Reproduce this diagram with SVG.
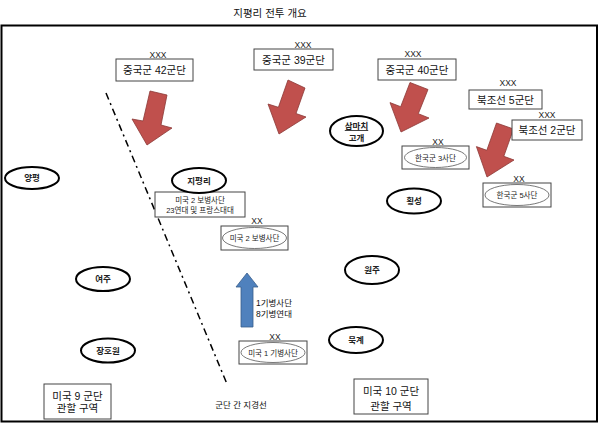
<svg xmlns="http://www.w3.org/2000/svg" width="600" height="434" viewBox="0 0 600 434">
<style>
text{font-family:"Liberation Sans","Noto Sans CJK KR",sans-serif;fill:#111;text-anchor:middle}
.big{font-size:10.5px}
.xx{font-size:8.5px;fill:#222}
.city{font-size:8.5px;font-weight:bold;fill:#222}
.unit{font-size:7.5px;fill:#222}
.box{fill:#fff;stroke:#444;stroke-width:1}
.cell{fill:none;stroke:#555;stroke-width:0.8}
.cityel{fill:#fff;stroke:#000;stroke-width:2}
.red{fill:#c0504d;stroke:#8c3836;stroke-width:0.8}
.blue{fill:#4f81bd;stroke:#385d8a;stroke-width:0.8}
</style>
<rect x="0" y="0" width="600" height="434" fill="#fff"/>
<text x="270" y="17" style="font-size:10.5px">지평리 전투 개요</text>
<rect x="1.5" y="25.5" width="595.5" height="396" fill="none" stroke="#000" stroke-width="2"/>

<g id="connectors">
<line x1="106" y1="93" x2="227" y2="384" stroke="#000" stroke-width="1.5" stroke-dasharray="7 4 2 4"/>
<polygon class="red" points="150,91 167,95 161,125 172,128 147,145 132,119 143,121"/>
<polygon class="red" points="288,80 305,88 296,113.5 306,117 279,134 268,104 278.4,107.3"/>
<polygon class="red" points="410,82.5 428,89.5 418.3,113.7 429,118 401,132 390,102.6 400.7,106.7"/>
<polygon class="red" points="496.5,123 513.5,129 503.8,156.3 514,160 487,177 476.4,146.6 486.8,150.3"/>
<polygon class="blue" points="247,273 258,287 253,287 253,327 241,327 241,287 236,287"/>
</g>

<g id="cn42"><text class="xx" x="158" y="58">XXX</text><rect class="box" x="116" y="59" width="77" height="22"/><text class="big" x="154.5" y="74">중국군 42군단</text></g>
<g id="cn39"><text class="xx" x="303" y="48">XXX</text><rect class="box" x="254" y="49" width="79" height="21"/><text class="big" x="293.5" y="63.5">중국군 39군단</text></g>
<g id="cn40"><text class="xx" x="413" y="57">XXX</text><rect class="box" x="378" y="59" width="78" height="21"/><text class="big" x="417" y="73.5">중국군 40군단</text></g>
<g id="nk5"><text class="xx" x="508" y="86">XXX</text><rect class="box" x="469" y="90" width="73" height="19"/><text class="big" x="505.5" y="103.5">북조선 5군단</text></g>
<g id="nk2"><text class="xx" x="547" y="118">XXX</text><rect class="box" x="512" y="120" width="70" height="20"/><text class="big" x="547" y="134">북조선 2군단</text></g>

<g id="rok3"><text class="xx" x="438" y="145">XX</text><rect class="box" x="402" y="146" width="67" height="23"/><ellipse class="cell" cx="435.5" cy="157.5" rx="31" ry="10"/><text class="unit" x="435.5" y="160.5">한국군 3사단</text></g>
<g id="rok5"><text class="xx" x="519" y="182">XX</text><rect class="box" x="483" y="183" width="68" height="24"/><ellipse class="cell" cx="517" cy="195" rx="32" ry="10.5"/><text class="unit" x="517" y="198">한국군 5사단</text></g>
<g id="us2det"><rect class="box" x="155" y="192" width="90" height="25"/><text class="unit" x="200" y="202.5">미국 2 보병사단</text><text class="unit" x="200" y="213">23연대 및 프랑스대대</text></g>
<g id="us2"><text class="xx" x="257" y="224">XX</text><rect class="box" x="221" y="226" width="67" height="24"/><ellipse class="cell" cx="254.5" cy="238" rx="32" ry="10.5"/><text class="unit" x="254.5" y="241">미국 2 보병사단</text></g>
<g id="us1cav"><text class="xx" x="275" y="340">XX</text><rect class="box" x="239" y="341" width="68" height="23"/><ellipse class="cell" cx="273" cy="352.5" rx="32" ry="10"/><text class="unit" x="273" y="355.5">미국 1 기병사단</text></g>
<g id="cavlabel"><text style="font-size:8.5px;text-anchor:start" x="256" y="305.5">1기병사단</text><text style="font-size:8.5px;text-anchor:start" x="256" y="317">8기병연대</text></g>

<g id="yangpyeong"><ellipse class="cityel" cx="32" cy="178" rx="27" ry="11"/><text class="city" x="32" y="181">양평</text></g>
<g id="jipyeongri"><ellipse class="cityel" cx="199" cy="180.5" rx="27" ry="12.5"/><text class="city" x="199" y="183.5">지평리</text></g>
<g id="sammachi"><ellipse class="cityel" cx="356.5" cy="131" rx="26.5" ry="15"/><text class="city" x="356.5" y="129" text-decoration="underline">삼마치</text><text class="city" x="356.5" y="140.5">고개</text></g>
<g id="hoengseong"><ellipse class="cityel" cx="414" cy="201" rx="27" ry="12.5"/><text class="city" x="414" y="204">횡성</text></g>
<g id="yeoju"><ellipse class="cityel" cx="103" cy="279" rx="27" ry="12"/><text class="city" x="103" y="282">여주</text></g>
<g id="janghowon"><ellipse class="cityel" cx="108" cy="350.5" rx="27" ry="12"/><text class="city" x="108" y="353.5">장호원</text></g>
<g id="wonju"><ellipse class="cityel" cx="372" cy="270" rx="27" ry="14"/><text class="city" x="372" y="273">원주</text></g>
<g id="mukgye"><ellipse class="cityel" cx="356" cy="340" rx="27" ry="13"/><text class="city" x="356" y="343">묵계</text></g>

<g id="corps9"><rect class="box" x="44" y="384" width="67" height="35"/><text class="big" x="77.5" y="399.5">미국 9 군단</text><text class="big" x="77.5" y="412">관할 구역</text></g>
<g id="corps10"><rect class="box" x="354" y="379" width="74" height="35"/><text class="big" x="391" y="395">미국 10 군단</text><text class="big" x="391" y="409.5">관할 구역</text></g>
<g id="boundary-label"><text style="font-size:8.5px" x="241" y="408">군단 간 지경선</text></g>
</svg>
